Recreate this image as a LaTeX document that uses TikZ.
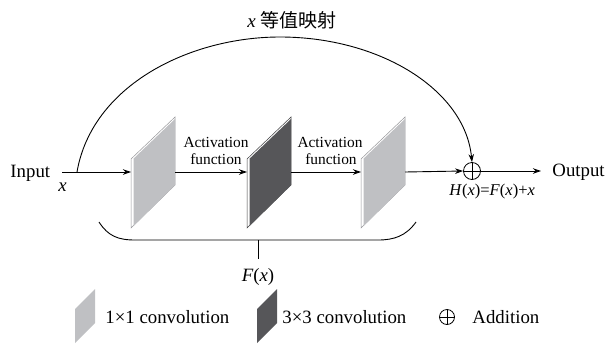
\documentclass[tikz,border=0pt]{standalone}
\usepackage{fontspec}
\setmainfont{Liberation Serif}
\newfontfamily\cjk{Noto Sans CJK SC}
\usetikzlibrary{arrows.meta}
\definecolor{lightpanel}{RGB}{191,192,195}
\definecolor{darkpanel}{RGB}{86,86,89}
\definecolor{lightedge}{RGB}{150,150,153}
\definecolor{darkedge}{RGB}{60,60,62}
\newcommand\convplate[3]{%
  \fill[white,draw=#3,line width=0.5pt] (#1,159) -- (#1+44,117) -- (#1+44,185) -- (#1,228) -- cycle;
  \fill[#2] (#1+2.6,158.6) -- (#1+44,119) -- (#1+44,185) -- (#1+2.6,226) -- cycle;
}
\newcommand\legendplate[2]{%
  \fill[#2] (#1,309) -- (#1+20,289) -- (#1+20,323) -- (#1,343) -- cycle;
}
\begin{document}
\begin{tikzpicture}[x=1pt,y=-1pt,line width=0.9pt,
  conn/.style={-{Stealth[length=8pt,width=5.5pt]}},
  lbl/.style={font=\fontsize{18.8}{20}\selectfont,inner sep=0},
  small/.style={font=\fontsize{15.4}{17}\selectfont,inner sep=0},
  formula/.style={font=\fontsize{16.5}{18}\selectfont,inner sep=0},
  addnode/.style={circle,draw,minimum width=17pt,minimum height=17pt,inner sep=0pt,line width=0.8pt},
]
\useasboundingbox (0,0) rectangle (607,343);

% plates
\convplate{131}{lightpanel}{lightedge}
\convplate{247}{darkpanel}{darkedge}
\convplate{361}{lightpanel}{lightedge}

% attach points
\coordinate (start) at (62,172);
\coordinate (split) at (77,172);
\coordinate (p1in) at (131,172);
\coordinate (p1out) at (175,172);
\coordinate (p2in) at (247,172);
\coordinate (p2out) at (291,172);
\coordinate (p3in) at (361,172);
\coordinate (p3out) at (405,172);

% nodes
\node[lbl,anchor=base west] (input) at (10,177) {Input};
\node[lbl,anchor=base west] (xin) at (58,191) {\textit{x}};
\node[addnode] (add) at (472,171) {};
\draw[line width=0.8pt] (add.north) -- (add.south) (add.west) -- (add.east);
\node[lbl,anchor=base west,inner xsep=11pt] (output) at (541,176) {Output};
\node[formula,anchor=base west] (hx) at (449,195) {\textit{H}(\textit{x})=\textit{F}(\textit{x})+\textit{x}};

\node[small,anchor=base] (act1a) at (216,147) {Activation};
\node[small,anchor=base] (act1b) at (216,164) {function};
\node[small,anchor=base] (act2a) at (330,147) {Activation};
\node[small,anchor=base] (act2b) at (331,164) {function};

\node[anchor=base west,inner sep=0,font=\fontsize{19}{20}\selectfont] (ident) at (247,27) {\textit{x} {\cjk 等值映射}};

% main connectors
\draw[conn] (start) -- (p1in);
\draw[conn] (p1out) -- (p2in);
\draw[conn] (p2out) -- (p3in);
\draw[conn] (p3out) -- (add.west);
\draw[conn] (add.east) -- (add.east -| output.west);
\draw[conn] (split) .. controls (92,85) and (190,37) .. (280,37)
  .. controls (380,37) and (465,90) .. (add.north);

% brace
\coordinate (bmid) at (258,240);
\draw (99,222) .. controls (108,236) and (118,240) .. (135,240) -- (378,240)
  .. controls (394,240) and (406,236) .. (416,222);
\node[lbl,anchor=base] (fx) at (258,281) {\textit{F}(\textit{x})};
\draw (bmid) -- ++(0,19);

% legend
\legendplate{75}{lightpanel}
\legendplate{257}{darkpanel}
\node[lbl,anchor=base west] (leg1) at (105,323) {1×1 convolution};
\node[lbl,anchor=base west] (leg2) at (282,323) {3×3 convolution};
\node[addnode,minimum width=15pt,minimum height=15pt] (legadd) at (447,317) {};
\draw[line width=0.8pt] (legadd.north) -- (legadd.south) (legadd.west) -- (legadd.east);
\node[lbl,anchor=base west] (leg3) at (472,323) {Addition};
\end{tikzpicture}
\end{document}
